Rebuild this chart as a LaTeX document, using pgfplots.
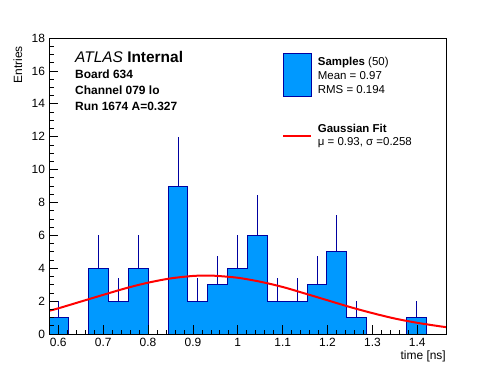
\documentclass[border=0pt]{standalone}
\usepackage{pgfplots}
\pgfplotsset{compat=1.18}
\usepackage{fontspec}
\setmainfont{Liberation Sans}
\definecolor{histfill}{RGB}{0,153,255}
\definecolor{histline}{RGB}{0,0,160}
\begin{document}
\begin{tikzpicture}[x=1bp,y=1bp]
\useasboundingbox (0,0) rectangle (496,372);
\begin{axis}[
  at={(49bp,38bp)}, anchor=south west,
  scale only axis, width=397bp, height=296bp,
  xmin=0.5793, xmax=1.464, ymin=0, ymax=18,
  axis on top,
  xtick={0.6,0.7,0.8,0.9,1,1.1,1.2,1.3,1.4},
  xticklabels={0.6,0.7,0.8,0.9,1,1.1,1.2,1.3,1.4},
  minor x tick num=4,
  ytick={0,2,...,18}, minor y tick num=3,
  xtick pos=bottom, ytick pos=left,
  tick align=inside,
  major tick length=9bp, minor tick length=4.5bp,
  tick style={black, line width=0.7bp},
  axis line style={line width=0.8bp},
  tick label style={font=\fontsize{12}{14}\selectfont},
  /pgf/number format/assume math mode=true,
  xticklabel style={yshift=-0.5bp},
  yticklabel style={xshift=-0.5bp},
]
\addplot[const plot, fill=histfill, draw=histline, line width=1bp] coordinates {
(0.5793,1)(0.6235,0)(0.6678,4)(0.7120,2)(0.7562,4)(0.8005,0)(0.8447,9)(0.8889,2)(0.9332,3)(0.9774,4)(1.0216,6)(1.0659,2)(1.1101,2)(1.1543,3)(1.1986,5)(1.2428,1)(1.2870,0)(1.3313,0)(1.3755,1)(1.4197,0)(1.4640,0)
} \closedcycle;
\addplot[histline, only marks, mark size=0pt,
  error bars/.cd, y dir=plus, y explicit, error mark=none,
  error bar style={histline, line width=0.9bp}] coordinates {
(0.6014,1) +- (0,1)
(0.6899,4) +- (0,2)
(0.7341,2) +- (0,1.414)
(0.7783,4) +- (0,2)
(0.8668,9) +- (0,3)
(0.9110,2) +- (0,1.414)
(0.9553,3) +- (0,1.732)
(0.9995,4) +- (0,2)
(1.0437,6) +- (0,2.449)
(1.0880,2) +- (0,1.414)
(1.1322,2) +- (0,1.414)
(1.1764,3) +- (0,1.732)
(1.2207,5) +- (0,2.236)
(1.2649,1) +- (0,1)
(1.3976,1) +- (0,1)
};
\addplot[red, line width=2bp, smooth] coordinates {
(0.5793,1.41)(0.60,1.56)(0.65,1.97)(0.70,2.38)(0.75,2.78)(0.80,3.12)(0.85,3.38)(0.90,3.53)(0.93,3.55)(0.95,3.54)(1.00,3.42)(1.05,3.18)(1.10,2.86)(1.15,2.46)(1.20,2.05)(1.25,1.64)(1.30,1.27)(1.35,0.94)(1.40,0.68)(1.45,0.47)(1.464,0.42)
};
\end{axis}
% axis titles
\node[font=\fontsize{12}{14}\selectfont, anchor=base east, inner sep=0] at (446,13) {time [ns]};
\node[font=\fontsize{12}{14}\selectfont, rotate=90, anchor=base east, inner sep=0] at (22,326) {Entries};
% ATLAS label
\node[font=\fontsize{15.5}{17}\selectfont, anchor=base west, inner sep=0] at (75,309.3) {\textit{ATLAS} \textbf{Internal}};
\node[font=\fontsize{12}{14}\selectfont\bfseries, anchor=base west, inner sep=0] at (75,293.7) {Board 634};
\node[font=\fontsize{12}{14}\selectfont\bfseries, anchor=base west, inner sep=0] at (75,278) {Channel 079 lo};
\node[font=\fontsize{12}{14}\selectfont\bfseries, anchor=base west, inner sep=0] at (75,262) {Run 1674 A=0.327};
% legend
\draw[fill=histfill, draw=histline, line width=1bp] (283.3,275.3) rectangle (311.7,318.7);
\draw[red, line width=2bp] (283,236.3) -- (311,236.3);
\node[font=\fontsize{11.5}{13}\selectfont, anchor=base west, inner sep=0] at (317.7,307) {\textbf{Samples} (50)};
\node[font=\fontsize{11.5}{13}\selectfont, anchor=base west, inner sep=0] at (317.7,292.7) {Mean = 0.97};
\node[font=\fontsize{11.5}{13}\selectfont, anchor=base west, inner sep=0] at (317.7,278.7) {RMS = 0.194};
\node[font=\fontsize{11.5}{13}\selectfont, anchor=base west, inner sep=0] at (317.7,239.3) {\textbf{Gaussian Fit}};
\node[font=\fontsize{11.5}{13}\selectfont, anchor=base west, inner sep=0] at (317.7,227) {μ = 0.93, σ =0.258};
\end{tikzpicture}
\end{document}
